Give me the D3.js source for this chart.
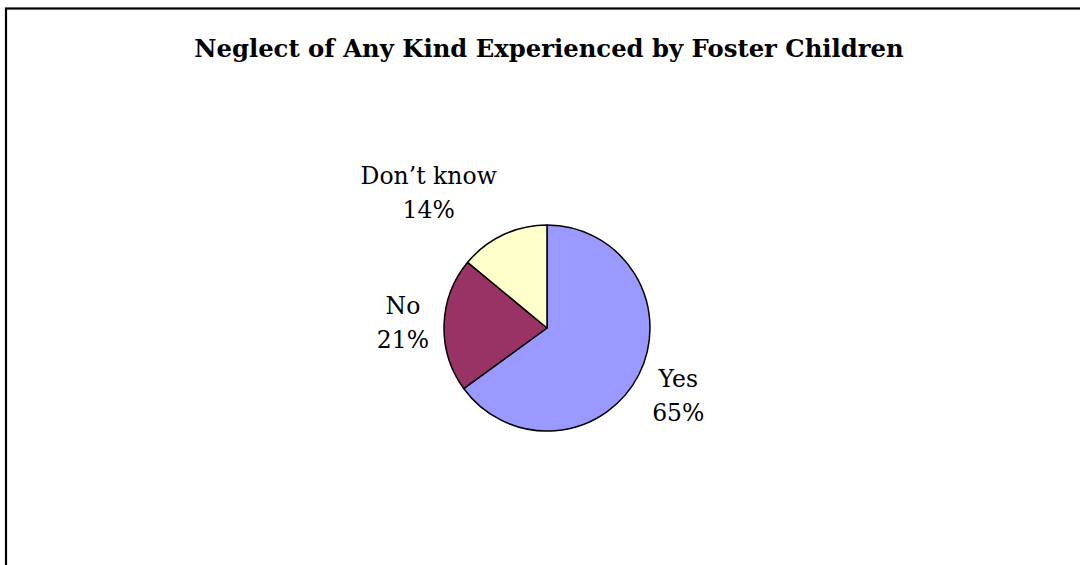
<!DOCTYPE html>
<html>
<head>
<meta charset="utf-8">
<script src="https://cdn.jsdelivr.net/npm/d3@7"></script>
<style>
  body { margin: 0; background: #fff; }
  svg { display: block; }
</style>
</head>
<body>
<svg id="chart" width="1080" height="565"></svg>
<script>
// data
var categories = ["Yes", "No", "Don\u2019t know"];
var values = [65, 21, 14];
var colors = ["#9999FF", "#993366", "#FFFFCC"];
var title = "Neglect of Any Kind Experienced by Foster Children";

var svg = d3.select("#chart");
var fontFam = "'DejaVu Serif', 'Liberation Serif', serif";

// outer frame (runs off the right and bottom)
svg.append("rect")
    .attr("x", 6)
    .attr("y", 8.5)
    .attr("width", 1200)
    .attr("height", 700)
    .attr("fill", "#fff")
    .attr("stroke", "#000")
    .attr("stroke-width", 2.2);

svg.append("text")
    .attr("x", 549)
    .attr("y", 57)
    .attr("text-anchor", "middle")
    .attr("font-family", fontFam)
    .attr("font-weight", "bold")
    .attr("font-size", "24.3px")
    .text(title);

var cx = 547, cy = 328, r = 103;
var g = svg.append("g").attr("transform", "translate(" + cx + "," + cy + ")");

var pie = d3.pie().sort(null).value(d => d.value);
var arc = d3.arc().innerRadius(0).outerRadius(r);
var data = pie(categories.map((c, i) => ({ name: c, value: values[i], color: colors[i] })));

g.selectAll("path.slice").data(data).enter().append("path")
    .attr("class", "slice")
    .attr("d", arc)
    .attr("fill", d => d.data.color)
    .attr("stroke", "#000")
    .attr("stroke-width", 1.5)
    .attr("stroke-linejoin", "round");

// labels: two lines, pushed out so the box sits beside the slice
var labelR = 118;
var labels = g.selectAll("g.lbl").data(data).enter().append("g").attr("class", "lbl");

labels.each(function(d) {
    var t = d3.select(this).append("text")
        .attr("text-anchor", "middle")
        .attr("font-family", fontFam)
        .attr("font-size", "23.5px")
        .attr("fill", "#000");
    t.append("tspan").attr("x", 0).attr("y", 0).text(d.data.name);
    t.append("tspan").attr("x", 0).attr("y", 34).text(Math.round(d.data.value) + "%");

    var bb = this.getBBox();
    var a = (d.startAngle + d.endAngle) / 2;
    var dx = Math.sin(a), dy = -Math.cos(a);
    var px = labelR * dx + Math.sign(dx) * bb.width / 2;
    var py = labelR * dy + dy * bb.height / 2;
    // shift so the bbox centre lands on (px, py)
    var ox = px - (bb.x + bb.width / 2);
    var oy = py - (bb.y + bb.height / 2);
    d3.select(this).attr("transform", "translate(" + ox + "," + oy + ")");
});
</script>
</body>
</html>
